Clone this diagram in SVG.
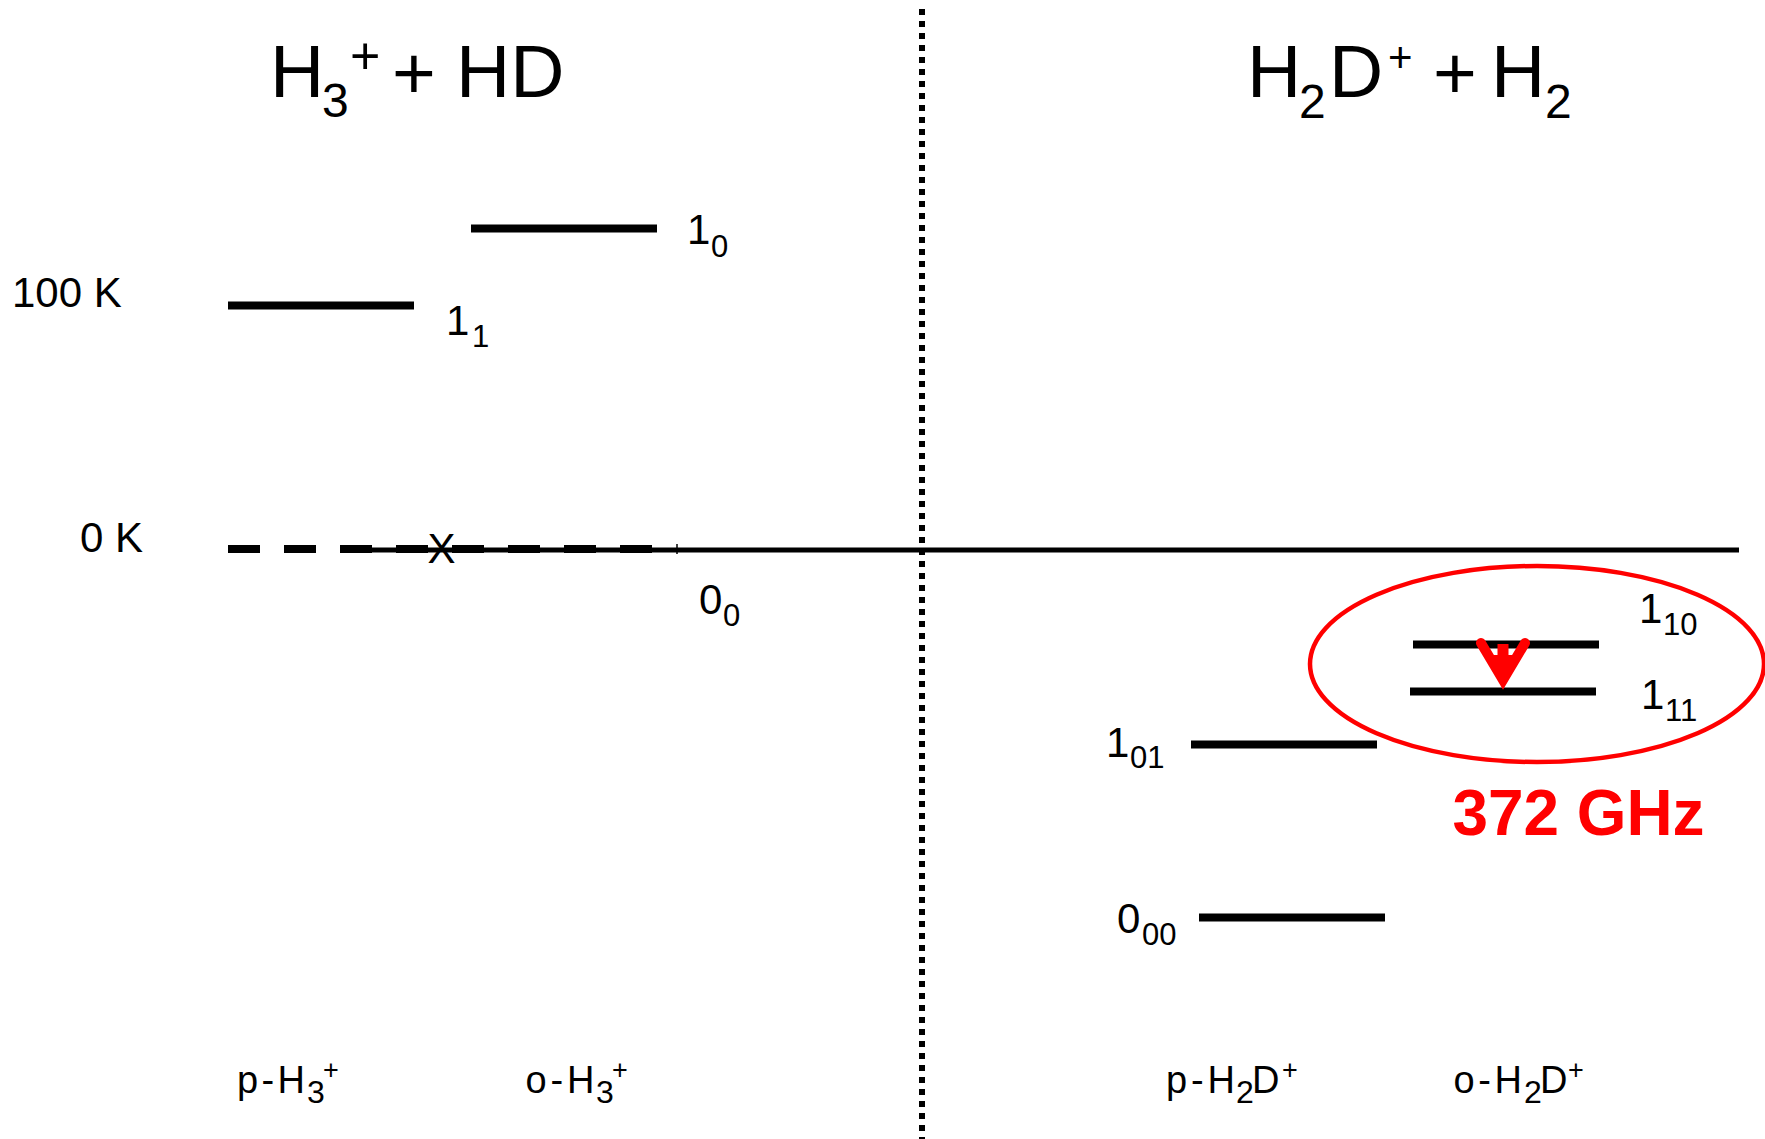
<svg xmlns="http://www.w3.org/2000/svg" width="1765" height="1139" viewBox="0 0 1765 1139">
<style>
text{font-family:"Liberation Sans",Arial,sans-serif;fill:#000}
.title{font-size:75px}
.tsub{font-size:48px}
.lbl{font-size:42px}
.sub{font-size:31px}
.bot{font-size:38px}
.bsub{font-size:32px}
.bsup{font-size:27px}
.level{stroke:#000;stroke-width:8;fill:none}
.red{stroke:#FF0000;fill:none}
</style>
<rect width="1765" height="1139" fill="#fff"/>

<g id="titles">
<text class="title" x="270" y="97">H</text>
<text class="tsub" x="322" y="117">3</text>
<text class="title" x="350" y="74" style="font-size:52px">+</text>
<text class="title" x="392" y="99">+</text>
<text class="title" x="456" y="97">HD</text>

<text class="title" x="1247" y="97">H</text>
<text class="tsub" x="1299" y="118">2</text>
<text class="title" x="1329" y="97">D</text>
<text class="title" x="1388" y="72" style="font-size:42px">+</text>
<text class="title" x="1433" y="99">+</text>
<text class="title" x="1491" y="97">H</text>
<text class="tsub" x="1545" y="118">2</text>
</g>

<g id="axes">
<line x1="922" y1="9" x2="922" y2="1139" stroke="#000" stroke-width="6" stroke-dasharray="6 6"/>
<line x1="372" y1="550" x2="1739" y2="550" stroke="#000" stroke-width="5"/>
<line x1="677" y1="544" x2="677" y2="554" stroke="#000" stroke-width="1.5"/>
<text class="lbl" x="12" y="307">100 K</text>
<text class="lbl" x="80" y="552">0 K</text>
</g>

<g id="p-H3-levels">
<line class="level" x1="228" y1="305.5" x2="414" y2="305.5"/>
<text class="lbl" x="446" y="335">1</text><text class="sub" x="472" y="347">1</text>
<line class="level" x1="228" y1="549" x2="652" y2="549" stroke-dasharray="32 24"/>
<text class="lbl" x="441.5" y="563" text-anchor="middle">X</text>
<text class="bot" x="237" y="1093" textLength="68" lengthAdjust="spacing">p-H</text><text class="bsub" x="307" y="1103">3</text><text class="bsup" x="323" y="1079">+</text>
</g>

<g id="o-H3-levels">
<line class="level" x1="471" y1="228.5" x2="657" y2="228.5"/>
<text class="lbl" x="687" y="244">1</text><text class="sub" x="711" y="257">0</text>
<text class="lbl" x="699" y="614">0</text><text class="sub" x="723" y="626">0</text>
<text class="bot" x="525.5" y="1093" textLength="69" lengthAdjust="spacing">o-H</text><text class="bsub" x="596" y="1103">3</text><text class="bsup" x="612" y="1079">+</text>
</g>

<g id="p-H2D-levels">
<line class="level" x1="1191" y1="744.5" x2="1377" y2="744.5"/>
<text class="lbl" x="1106" y="757">1</text><text class="sub" x="1130" y="768">01</text>
<line class="level" x1="1199" y1="917.5" x2="1385" y2="917.5"/>
<text class="lbl" x="1117" y="933">0</text><text class="sub" x="1142" y="945">00</text>
<text class="bot" x="1166" y="1093" textLength="69" lengthAdjust="spacing">p-H</text><text class="bsub" x="1236" y="1103">2</text><text class="bot" x="1252" y="1093">D</text><text class="bsup" x="1282" y="1079">+</text>
</g>

<g id="o-H2D-levels">
<line class="level" x1="1413" y1="644.5" x2="1599" y2="644.5"/>
<text class="lbl" x="1639" y="623">1</text><text class="sub" x="1663" y="635">10</text>
<line class="level" x1="1410" y1="691.5" x2="1596" y2="691.5"/>
<text class="lbl" x="1641" y="709">1</text><text class="sub" x="1665" y="721">11</text>
<text class="bot" x="1453.5" y="1093" textLength="68.5" lengthAdjust="spacing">o-H</text><text class="bsub" x="1524" y="1103">2</text><text class="bot" x="1540" y="1093">D</text><text class="bsup" x="1568" y="1079">+</text>
</g>

<g id="highlight">
<ellipse class="red" cx="1537" cy="664" rx="227" ry="98" stroke-width="4.5"/>
<text x="1452.5" y="835" textLength="252" lengthAdjust="spacingAndGlyphs" style="font-size:64px;font-weight:bold;fill:#FF0000">372 GHz</text>
</g>

<g id="connectors">
<rect x="1497.5" y="644" width="11" height="30" fill="#FF0000"/>
<polygon points="1489,655 1517,655 1503,682" fill="#FF0000"/>
<polyline points="1481,643 1503,680 1525,643" stroke="#FF0000" stroke-width="10" stroke-linecap="round" stroke-linejoin="miter" fill="none"/>
</g>
</svg>
